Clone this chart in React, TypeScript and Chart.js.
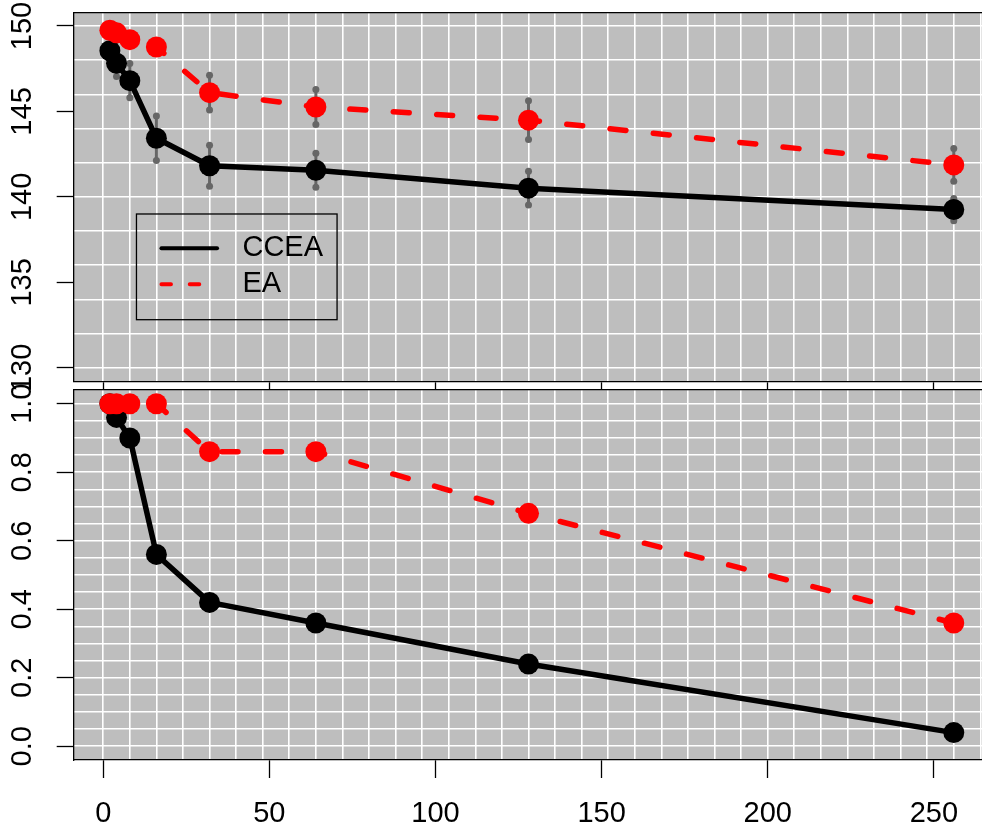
import React, { useEffect, useRef } from "react";
import { Chart, registerables } from "chart.js";

Chart.register(...registerables);

// ---------------- data ----------------
const budgets = [2, 4, 8, 16, 32, 64, 128, 256];
const seriesNames = ["CCEA", "EA"];

// top panel: mean value with error half-widths
const cceaValue = [148.55, 147.82, 146.8, 143.43, 141.82, 141.56, 140.51, 139.26];
const eaValue = [149.75, 149.6, 149.2, 148.77, 146.1, 145.26, 144.49, 141.87];
const cceaValueErr = [0.3, 0.78, 1.0, 1.3, 1.2, 1.0, 0.99, 0.65];
const eaValueErr = [0.3, 0.3, 0.3, 0.35, 1.02, 1.02, 1.13, 0.96];

// bottom panel: rate
const cceaRate = [1.0, 0.96, 0.9, 0.56, 0.42, 0.36, 0.24, 0.04];
const eaRate = [1.0, 1.0, 1.0, 1.0, 0.86, 0.86, 0.68, 0.36];

// ticks
const xTicks = [0, 50, 100, 150, 200, 250];
const topYTicks = [130, 135, 140, 145, 150];
const bottomYTicks = [0, 0.2, 0.4, 0.6, 0.8, 1.0];

// grid spacing
const xGridStep = 8;
const topYGridStep = 2;
const bottomYGridStep = 0.05;

// axis ranges
const X_MIN = -8.8;
const X_MAX = 266;
const TOP_Y_MIN = 129.2;
const TOP_Y_MAX = 150.8;
const BOT_Y_MIN = -0.04;
const BOT_Y_MAX = 1.04;

// legend anchor (data units, top-left of the box)
const legendAt = [10, 139];

// ---------------- styling ----------------
const FONT_FAMILY = "'Liberation Sans', Arial, Helvetica, sans-serif";
const FONT_SIZE = 29;
const PANEL_BG = "#bebebe";
const GRID_COLOR = "#ffffff";
const ERR_COLOR = "#666666";
const RED = "#ff0000";
const BLACK = "#000000";
const AXIS_W = 1.3;

Chart.defaults.font.family = FONT_FAMILY;

function seq(from: number, to: number, step: number): number[] {
  const out: number[] = [];
  const n = Math.round((to - from) / step);
  for (let i = 0; i <= n; i++) out.push(Math.round((from + i * step) * 1e6) / 1e6);
  return out;
}

const points = (ys: number[]) => budgets.map((x, i) => ({ x, y: ys[i] }));
const errorBars = (ys: number[], es: number[]) =>
  budgets.flatMap((x, i) => [
    { x, y: ys[i] - es[i] },
    { x, y: ys[i] + es[i] },
    { x, y: null as any },
  ]);

const panelBg = {
  id: "panelBg",
  beforeDraw(chart: any) {
    const { ctx, chartArea: a } = chart;
    ctx.save();
    ctx.fillStyle = PANEL_BG;
    ctx.fillRect(a.left, a.top, a.right - a.left, a.bottom - a.top);
    ctx.restore();
  },
};

const insetLegend = {
  id: "insetLegend",
  afterDraw(chart: any) {
    const { ctx, scales } = chart;
    const left = scales.x.getPixelForValue(legendAt[0]);
    const top = scales.y.getPixelForValue(legendAt[1]);
    const w = 200.6;
    const h = 105.7;
    ctx.save();
    ctx.strokeStyle = BLACK;
    ctx.lineWidth = AXIS_W;
    ctx.strokeRect(left, top, w, h);
    const rowY = [top + 34.3, top + 70.3];
    seriesNames.forEach((name, i) => {
      const ds = chart.data.datasets.find((d: any) => d.label === name);
      if (!ds) return;
      const y = rowY[i];
      ctx.beginPath();
      ctx.strokeStyle = ds.borderColor;
      ctx.lineWidth = 4;
      ctx.lineCap = "round";
      ctx.setLineDash(ds.borderDash && ds.borderDash.length ? [9.5, 18.8] : []);
      ctx.moveTo(left + 25, y);
      ctx.lineTo(left + 80.6, y);
      ctx.stroke();
      ctx.setLineDash([]);
      ctx.fillStyle = BLACK;
      ctx.font = `${FONT_SIZE}px ${FONT_FAMILY}`;
      ctx.textBaseline = "middle";
      ctx.textAlign = "left";
      ctx.fillText(name, left + 106, y);
    });
    ctx.restore();
  },
};

function gridAxis(position: string, min: number, max: number, values: number[]) {
  const horizontal = position === "top" || position === "bottom";
  return {
    type: "linear",
    display: true,
    position,
    min,
    max,
    afterBuildTicks: (s: any) => {
      s.ticks = values.filter((v) => v >= min && v <= max).map((v) => ({ value: v }));
    },
    afterFit: (s: any) => {
      if (horizontal) s.height = 0;
      else s.width = 0;
      s.paddingTop = s.paddingBottom = s.paddingLeft = s.paddingRight = 0;
    },
    ticks: { display: false },
    grid: {
      display: true,
      color: GRID_COLOR,
      lineWidth: 1.6,
      drawTicks: false,
      drawOnChartArea: true,
    },
    border: { display: true, color: BLACK, width: AXIS_W },
  };
}

function xAxis(showLabels: boolean, height: number) {
  return {
    type: "linear",
    display: true,
    position: "bottom",
    min: X_MIN,
    max: X_MAX,
    afterBuildTicks: (s: any) => {
      s.ticks = xTicks.map((v) => ({ value: v }));
    },
    afterFit: (s: any) => {
      s.height = height;
      s.paddingTop = s.paddingBottom = s.paddingLeft = s.paddingRight = 0;
    },
    grid: {
      display: true,
      drawOnChartArea: false,
      drawTicks: true,
      tickLength: 18,
      tickColor: BLACK,
      tickWidth: AXIS_W,
    },
    border: { display: true, color: BLACK, width: AXIS_W },
    ticks: {
      display: showLabels,
      autoSkip: false,
      maxRotation: 0,
      minRotation: 0,
      padding: 19,
      color: BLACK,
      font: { size: FONT_SIZE, family: FONT_FAMILY },
      callback: (v: any) => String(v),
    },
  };
}

function yAxis(min: number, max: number, values: number[], decimals: number, padding: number) {
  return {
    type: "linear",
    display: true,
    position: "left",
    min,
    max,
    afterBuildTicks: (s: any) => {
      s.ticks = values.map((v) => ({ value: v }));
    },
    afterFit: (s: any) => {
      s.width = 74;
      s.paddingTop = s.paddingBottom = s.paddingLeft = s.paddingRight = 0;
    },
    grid: {
      display: true,
      drawOnChartArea: false,
      drawTicks: true,
      tickLength: 17.3,
      tickColor: BLACK,
      tickWidth: AXIS_W,
    },
    border: { display: true, color: BLACK, width: AXIS_W },
    ticks: {
      autoSkip: false,
      minRotation: 90,
      maxRotation: 90,
      crossAlign: "center",
      padding,
      color: BLACK,
      font: { size: FONT_SIZE, family: FONT_FAMILY },
      callback: (v: any) => Number(v).toFixed(decimals),
    },
  };
}

function lineDataset(label: string, ys: number[], color: string, dashed: boolean, order: number) {
  return {
    label,
    data: points(ys),
    xAxisID: "x",
    yAxisID: "y",
    borderColor: color,
    backgroundColor: color,
    borderWidth: 5.5,
    borderDash: dashed ? [16, 27.5] : [],
    borderCapStyle: dashed ? "round" : "butt",
    borderJoinStyle: "round",
    pointRadius: 10.5,
    pointHoverRadius: 10.5,
    pointBackgroundColor: color,
    pointBorderWidth: 0,
    pointBorderColor: color,
    fill: false,
    tension: 0,
    order,
  };
}

function errDataset(label: string, ys: number[], es: number[], order: number) {
  return {
    label,
    data: errorBars(ys, es),
    xAxisID: "x",
    yAxisID: "y",
    borderColor: ERR_COLOR,
    backgroundColor: ERR_COLOR,
    borderWidth: 3,
    pointRadius: 3.5,
    pointHoverRadius: 3.5,
    pointBackgroundColor: ERR_COLOR,
    pointBorderWidth: 0,
    spanGaps: false,
    fill: false,
    order,
  };
}

const baseOptions = {
  responsive: false,
  animation: false,
  events: [],
  plugins: { legend: { display: false }, tooltip: { enabled: false } },
};

function topConfig(): any {
  return {
    type: "line",
    data: {
      datasets: [
        lineDataset("EA", eaValue, RED, true, 0),
        lineDataset("CCEA", cceaValue, BLACK, false, 1),
        errDataset("EA error", eaValue, eaValueErr, 2),
        errDataset("CCEA error", cceaValue, cceaValueErr, 3),
      ],
    },
    options: {
      ...baseOptions,
      layout: { padding: { top: 12.3, right: 13, bottom: 0, left: 0 } },
      scales: {
        x: xAxis(false, 18.5),
        xg: gridAxis("top", X_MIN, X_MAX, seq(0, 264, xGridStep)),
        y: yAxis(TOP_Y_MIN, TOP_Y_MAX, topYTicks, 0, 10),
        yg: gridAxis("right", TOP_Y_MIN, TOP_Y_MAX, seq(130, 150, topYGridStep)),
      },
    },
    plugins: [panelBg, insetLegend],
  };
}

function bottomConfig(): any {
  return {
    type: "line",
    data: {
      datasets: [
        lineDataset("EA", eaRate, RED, true, 0),
        lineDataset("CCEA", cceaRate, BLACK, false, 1),
      ],
    },
    options: {
      ...baseOptions,
      layout: { padding: { top: 390, right: 13, bottom: 0, left: 0 } },
      scales: {
        x: xAxis(true, 73),
        xg: gridAxis("top", X_MIN, X_MAX, seq(0, 264, xGridStep)),
        y: yAxis(BOT_Y_MIN, BOT_Y_MAX, bottomYTicks, 1, 14),
        yg: gridAxis("right", BOT_Y_MIN, BOT_Y_MAX, seq(0, 1, bottomYGridStep)),
      },
    },
    plugins: [panelBg],
  };
}

export default function App() {
  const topRef = useRef<HTMLCanvasElement>(null);
  const botRef = useRef<HTMLCanvasElement>(null);

  useEffect(() => {
    const c1 = new Chart(topRef.current as HTMLCanvasElement, topConfig());
    const c2 = new Chart(botRef.current as HTMLCanvasElement, bottomConfig());
    return () => {
      c1.destroy();
      c2.destroy();
    };
  }, []);

  return (
    <div
      style={{
        position: "fixed",
        left: 0,
        top: 0,
        width: 982,
        height: 833,
        overflow: "hidden",
        background: "#ffffff",
      }}
    >
      <canvas
        ref={topRef}
        width={1000}
        height={400}
        style={{ position: "absolute", left: 0, top: 0, width: 1000, height: 400 }}
      />
      <canvas
        ref={botRef}
        width={1000}
        height={833}
        style={{ position: "absolute", left: 0, top: 0, width: 1000, height: 833 }}
      />
    </div>
  );
}
